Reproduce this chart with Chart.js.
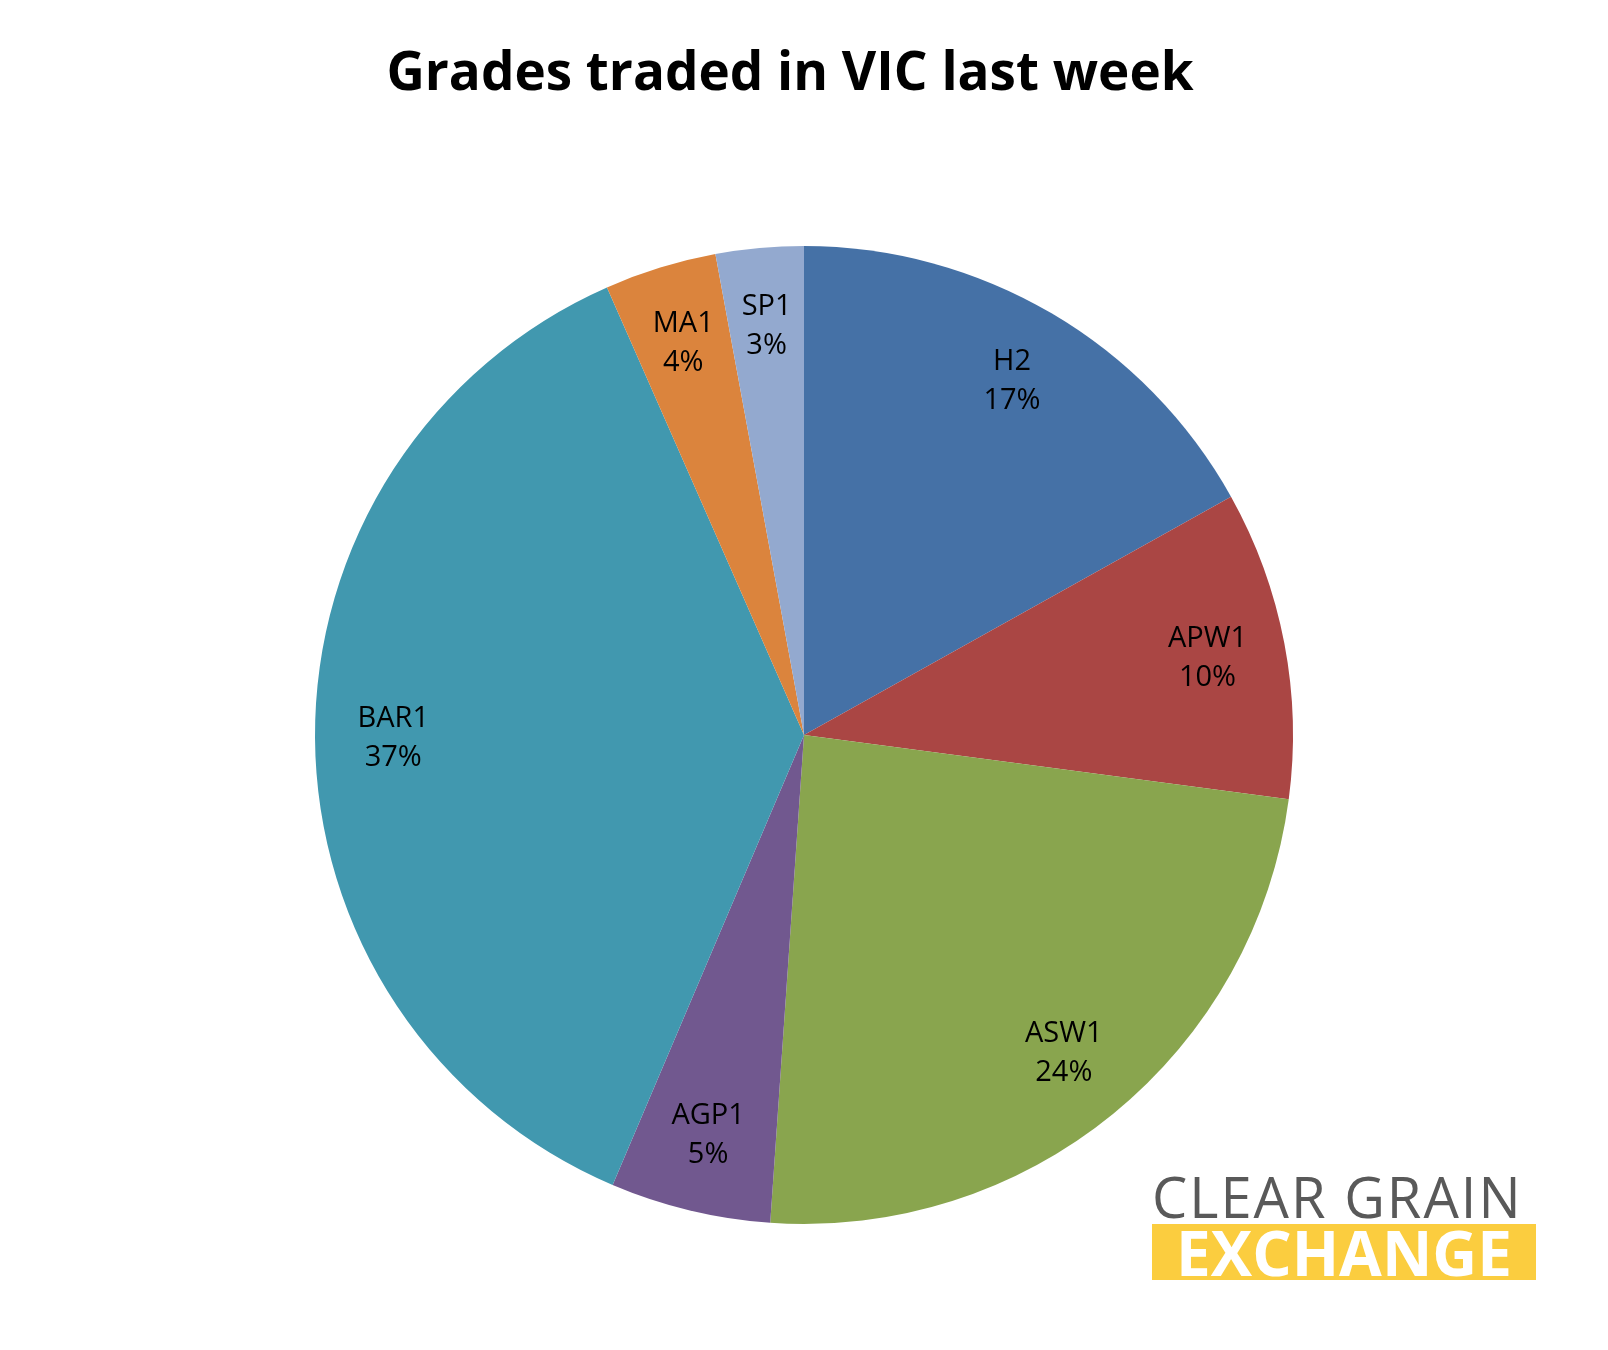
<!DOCTYPE html>
<html>
<head>
<meta charset="utf-8">
<script src="https://cdn.jsdelivr.net/npm/chart.js@4"></script>
<style>
  body { margin: 0; background: #fff; }
  #wrap { position: relative; width: 1608px; height: 1350px; }
  #title { position: absolute; top: 33px; left: 0; width: 1580px; text-align: center;
           font: bold 53px "Open Sans", sans-serif; color: #000; }
  #logo1 { position: absolute; left: 1152px; top: 1168px; font: 56px "Open Sans", sans-serif;
           color: #595959; letter-spacing: 2px; line-height: 1; white-space: nowrap; }
  #logo2 { position: absolute; left: 1152px; top: 1224px; width: 384px; height: 56px; background: #FBCD3F;
           font: bold 62px "Open Sans", sans-serif; color: #fff; line-height: 56px; letter-spacing: 0px;
           text-align: center; overflow: hidden; white-space: nowrap; }
</style>
</head>
<body>
<div id="wrap">
  <div id="title">Grades traded in VIC last week</div>
  <canvas id="pieChart" width="1608" height="1350"></canvas>
  <div id="logo1">CLEAR GRAIN</div>
  <div id="logo2">EXCHANGE</div>
</div>
<script>
const grades = ['H2', 'APW1', 'ASW1', 'AGP1', 'BAR1', 'MA1', 'SP1'];
const shares = [16.9, 10.2, 24.0, 5.3, 37.0, 3.7, 2.9];
const shareLabels = ['17%', '10%', '24%', '5%', '37%', '4%', '3%'];
const colours = ['#4571A6', '#AA4644', '#89A54E', '#71588F', '#4198AF', '#DB843D', '#93A9CF'];

// draw "name / pct" inside each slice
const sliceLabels = {
  id: 'sliceLabels',
  afterDatasetsDraw(chart) {
    const ctx = chart.ctx;
    const arcs = chart.getDatasetMeta(0).data;
    ctx.save();
    ctx.font = '29px "Open Sans", sans-serif';
    ctx.fillStyle = '#000';
    ctx.textAlign = 'center';
    ctx.textBaseline = 'middle';
    arcs.forEach((arc, i) => {
      const mid = (arc.startAngle + arc.endAngle) / 2;
      const r = arc.outerRadius * 0.84;
      const x = arc.x + Math.cos(mid) * r;
      const y = arc.y + Math.sin(mid) * r;
      ctx.fillText(grades[i], x, y - 19);
      ctx.fillText(shareLabels[i], x, y + 20);
    });
    ctx.restore();
  }
};

new Chart(document.getElementById('pieChart'), {
  type: 'pie',
  data: {
    labels: grades,
    datasets: [{ data: shares, backgroundColor: colours, borderWidth: 0 }]
  },
  options: {
    responsive: false,
    animation: false,
    layout: { padding: { left: 315, right: 315, top: 246, bottom: 126 } },
    plugins: { legend: { display: false }, tooltip: { enabled: false } }
  },
  plugins: [sliceLabels]
});
</script>
</body>
</html>
